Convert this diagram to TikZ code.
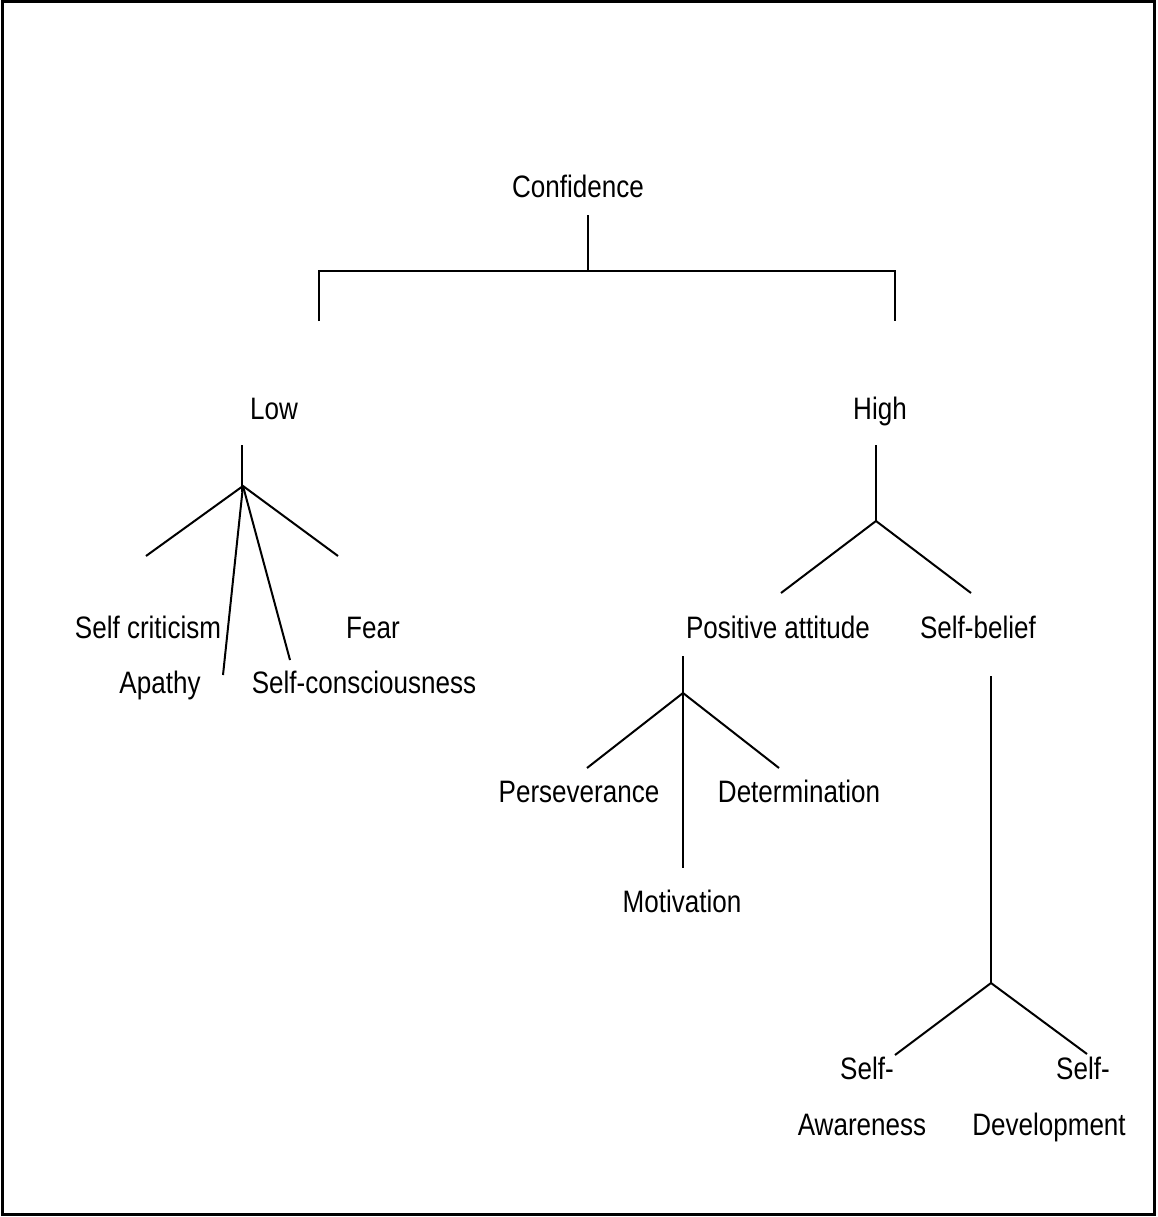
\documentclass[tikz,border=0pt]{standalone}
\usepackage{fontspec}
\setmainfont[FakeStretch=0.84]{Liberation Sans}
\tikzset{
  lbl/.style={anchor=base,inner sep=0pt,font=\fontsize{31}{37}\selectfont},
  twig/.style={line width=2pt}
}
\begin{document}
\begin{tikzpicture}[x=1pt,y=-1pt]
\useasboundingbox (0,0) rectangle (1157,1217);
\draw[line width=3pt] (2.5,2) rectangle (1154.5,1214);

% top level
\node[lbl] (conf) at (578,197) {Confidence};
\coordinate (conftop) at (588,215);
\coordinate (confmid) at (588,271);
\coordinate (lowend) at (319,321);
\coordinate (highend) at (895,321);
\draw[twig] (conftop) -- (confmid);
\draw[twig] (lowend) |- (confmid) -| (highend);

\node[lbl] (low) at (274,419) {Low};
\node[lbl] (high) at (880,419) {High};

% low branch
\coordinate (lowtop) at (242,445);
\coordinate (lowfork) at (243,486);
\coordinate (critend) at (146,556);
\coordinate (fearend) at (338,556);
\coordinate (apaend) at (223,675);
\coordinate (consend) at (290,660);
\draw[twig] (lowtop) -- (242,492);
\draw[twig] (critend) -- (lowfork) -- (fearend);
\draw[twig] (lowfork) -- (apaend);
\draw[twig] (lowfork) -- (consend);
\node[lbl] (crit) at (148,638) {Self criticism};
\node[lbl] (fear) at (373,638) {Fear};
\node[lbl] (apathy) at (160,693) {Apathy};
\node[lbl] (cons) at (364,693) {Self-consciousness};

% high branch
\coordinate (hightop) at (876,445);
\coordinate (highfork) at (876,521);
\coordinate (posend) at (781,593);
\coordinate (beliefend) at (971,593);
\draw[twig] (hightop) -- (highfork);
\draw[twig] (posend) -- (highfork) -- (beliefend);
\node[lbl] (pos) at (778,638) {Positive attitude};
\node[lbl] (belief) at (978,638) {Self-belief};

% positive attitude
\coordinate (postop) at (683,656);
\coordinate (posfork) at (683,693);
\coordinate (persend) at (587,768);
\coordinate (detend) at (779,768);
\coordinate (motend) at (683,868);
\draw[twig] (postop) -- (motend);
\draw[twig] (persend) -- (posfork) -- (detend);
\node[lbl] (pers) at (579,802) {Perseverance};
\node[lbl] (det) at (799,802) {Determination};
\node[lbl] (mot) at (682,912) {Motivation};

% self-belief
\coordinate (belieftop) at (991,676);
\coordinate (belieffork) at (991,983);
\coordinate (awend) at (895,1055);
\coordinate (devend) at (1087,1054);
\draw[twig] (belieftop) -- (belieffork);
\draw[twig] (awend) -- (belieffork) -- (devend);
\node[lbl] (aw1) at (867,1079) {Self-};
\node[lbl] (aw2) at (862,1135) {Awareness};
\node[lbl] (dev1) at (1083,1079) {Self-};
\node[lbl] (dev2) at (1049,1135) {Development};
\end{tikzpicture}
\end{document}
